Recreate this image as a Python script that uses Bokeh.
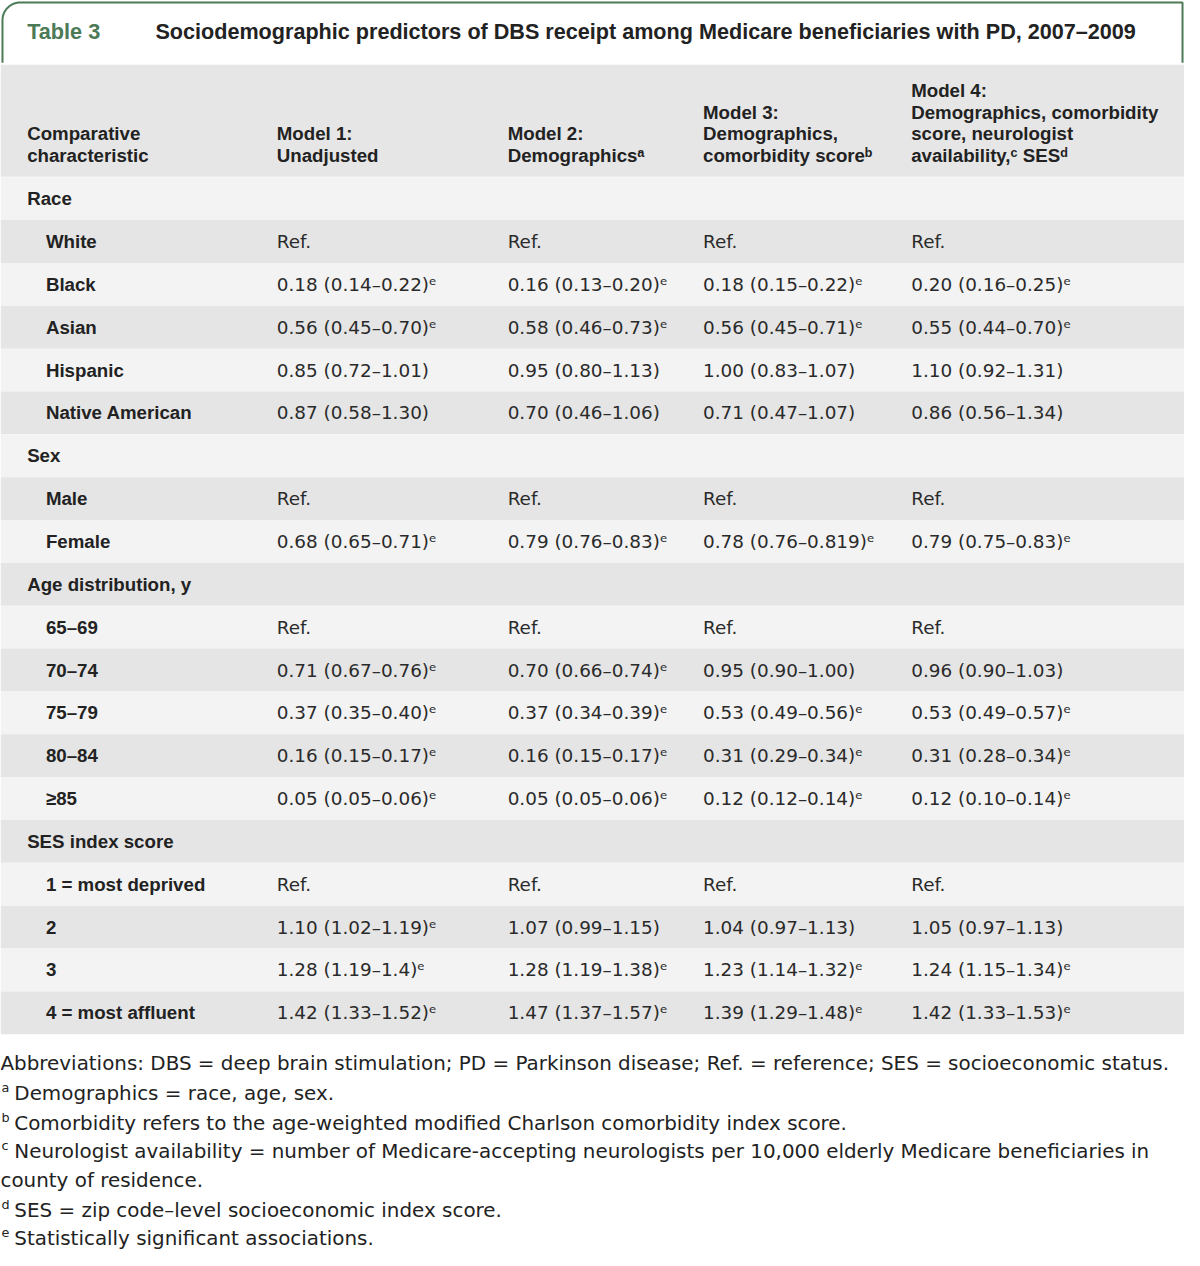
from bokeh.plotting import figure
from bokeh.models import Range1d, ColumnDataSource
from bokeh.embed import file_html
from bokeh.resources import INLINE
from bokeh.core.properties import value
import numpy as np

# ---------------- data ----------------
table_label = "Table 3"
title = "Sociodemographic predictors of DBS receipt among Medicare beneficiaries with PD, 2007\u20132009"

header_cols = [
    ["Comparative", "characteristic"],
    ["Model 1:", "Unadjusted"],
    ["Model 2:", "Demographics\u1d43"],
    ["Model 3:", "Demographics,", "comorbidity score\u1d47"],
    ["Model 4:", "Demographics, comorbidity", "score, neurologist", "availability,\u1d9c SES\u1d48"],
]

row_labels = ["Race", "White", "Black", "Asian", "Hispanic", "Native American",
              "Sex", "Male", "Female",
              "Age distribution, y", "65\u201369", "70\u201374", "75\u201379", "80\u201384", "\u226585",
              "SES index score", "1 = most deprived", "2", "3", "4 = most affluent"]
row_is_group = [True, False, False, False, False, False,
                True, False, False,
                True, False, False, False, False, False,
                True, False, False, False, False]

E = "\u1d49"
model1 = ["", "Ref.", "0.18 (0.14\u20130.22)" + E, "0.56 (0.45\u20130.70)" + E, "0.85 (0.72\u20131.01)", "0.87 (0.58\u20131.30)",
          "", "Ref.", "0.68 (0.65\u20130.71)" + E,
          "", "Ref.", "0.71 (0.67\u20130.76)" + E, "0.37 (0.35\u20130.40)" + E, "0.16 (0.15\u20130.17)" + E, "0.05 (0.05\u20130.06)" + E,
          "", "Ref.", "1.10 (1.02\u20131.19)" + E, "1.28 (1.19\u20131.4)" + E, "1.42 (1.33\u20131.52)" + E]
model2 = ["", "Ref.", "0.16 (0.13\u20130.20)" + E, "0.58 (0.46\u20130.73)" + E, "0.95 (0.80\u20131.13)", "0.70 (0.46\u20131.06)",
          "", "Ref.", "0.79 (0.76\u20130.83)" + E,
          "", "Ref.", "0.70 (0.66\u20130.74)" + E, "0.37 (0.34\u20130.39)" + E, "0.16 (0.15\u20130.17)" + E, "0.05 (0.05\u20130.06)" + E,
          "", "Ref.", "1.07 (0.99\u20131.15)", "1.28 (1.19\u20131.38)" + E, "1.47 (1.37\u20131.57)" + E]
model3 = ["", "Ref.", "0.18 (0.15\u20130.22)" + E, "0.56 (0.45\u20130.71)" + E, "1.00 (0.83\u20131.07)", "0.71 (0.47\u20131.07)",
          "", "Ref.", "0.78 (0.76\u20130.819)" + E,
          "", "Ref.", "0.95 (0.90\u20131.00)", "0.53 (0.49\u20130.56)" + E, "0.31 (0.29\u20130.34)" + E, "0.12 (0.12\u20130.14)" + E,
          "", "Ref.", "1.04 (0.97\u20131.13)", "1.23 (1.14\u20131.32)" + E, "1.39 (1.29\u20131.48)" + E]
model4 = ["", "Ref.", "0.20 (0.16\u20130.25)" + E, "0.55 (0.44\u20130.70)" + E, "1.10 (0.92\u20131.31)", "0.86 (0.56\u20131.34)",
          "", "Ref.", "0.79 (0.75\u20130.83)" + E,
          "", "Ref.", "0.96 (0.90\u20131.03)", "0.53 (0.49\u20130.57)" + E, "0.31 (0.28\u20130.34)" + E, "0.12 (0.10\u20130.14)" + E,
          "", "Ref.", "1.05 (0.97\u20131.13)", "1.24 (1.15\u20131.34)" + E, "1.42 (1.33\u20131.53)" + E]

footnote_marks = ["", "a", "b", "c", "", "d", "e"]
footnotes = [
    "Abbreviations: DBS = deep brain stimulation; PD = Parkinson disease; Ref. = reference; SES = socioeconomic status.",
    "Demographics = race, age, sex.",
    "Comorbidity refers to the age-weighted modified Charlson comorbidity index score.",
    "Neurologist availability = number of Medicare-accepting neurologists per 10,000 elderly Medicare beneficiaries in",
    "county of residence.",
    "SES = zip code\u2013level socioeconomic index score.",
    "Statistically significant associations.",
]

# ---------------- layout ----------------
W, H = 1184, 1250
S = W / 1200.0
def px(v):
    return "%.1fpx" % (v * S)

FONT = value("Liberation Sans")
FONT_R = value("DejaVu Sans")
GREEN = "#4c7a56"
TXT = "#222222"

p = figure(width=W, height=H, x_range=Range1d(0, 1200), y_range=Range1d(1266, 0),
           output_backend="svg", toolbar_location=None, min_border=0)
p.axis.visible = False
p.grid.visible = False
p.outline_line_color = None
p.background_fill_color = "white"
p.border_fill_color = "white"

# title box with rounded top-left corner
r = 18
ang = np.linspace(np.pi, 1.5 * np.pi, 20)
bx = [1198, 1198, 2 + r] + list((2 + r + r * np.cos(ang))[::-1]) + [2, 2]
by = [63, 2, 2] + list((2 + r + r * np.sin(ang))[::-1]) + [2 + r, 63]
p.line(bx, by, line_color=GREEN, line_width=2)

p.text(x=[27], y=[31], text=[table_label], text_font=FONT, text_font_style="bold",
       text_font_size=px(22), text_color=GREEN, text_baseline="middle")
p.text(x=[157], y=[31], text=[title], text_font=FONT, text_font_style="bold",
       text_font_size=px(21.9), text_color=TXT, text_baseline="middle")

# header block
HEAD_TOP, HEAD_BOT = 65, 178.5
p.quad(left=[0], right=[1200], top=[HEAD_TOP], bottom=[HEAD_BOT], fill_color="#e6e6e6", line_color=None)

col_x = [27, 280, 514, 712, 923]
hx, hy, ht = [], [], []
for ci, lines in enumerate(header_cols):
    n = len(lines)
    for li, t in enumerate(lines):
        hx.append(col_x[ci])
        hy.append(157 - 22 * (n - 1 - li))
        ht.append(t)
p.text(x=hx, y=hy, text=ht, text_font=FONT, text_font_style="bold",
       text_font_size=px(19), text_color=TXT, text_baseline="middle")

# body rows
ROW0, RH = 179, 43.4
n = len(row_labels)
tops = [ROW0 + RH * i for i in range(n)]
bots = [ROW0 + RH * (i + 1) for i in range(n)]
cols = ["#f3f3f3" if i % 2 == 0 else "#e5e5e5" for i in range(n)]
p.quad(left=[0] * n, right=[1200] * n, top=tops, bottom=bots, fill_color=cols, line_color=None)

yc = [ROW0 + RH * (i + 0.5) for i in range(n)]
lab_x = [27 if g else 46 for g in row_is_group]
p.text(x=lab_x, y=yc, text=row_labels, text_font=FONT, text_font_style="bold",
       text_font_size=px(19), text_color=TXT, text_baseline="middle")

for ci, vals in enumerate([model1, model2, model3, model4]):
    src = ColumnDataSource(dict(x=[col_x[ci + 1]] * n, y=yc, t=vals))
    p.text(x="x", y="y", text="t", source=src, text_font=FONT_R,
           text_font_size=px(18.6), text_color="#2a2a2a", text_baseline="middle")

# footnotes
fy = [1077, 1107, 1137, 1166, 1195, 1225, 1254]
fx = [0 if m == "" else 14 for m in footnote_marks]
p.text(x=fx, y=fy, text=footnotes, text_font=FONT_R,
       text_font_size=px(20.2), text_color=TXT, text_baseline="middle")
mk = [(m, y) for m, y in zip(footnote_marks, fy) if m]
p.text(x=[1] * len(mk), y=[y - 6 for _, y in mk], text=[m for m, _ in mk], text_font=FONT_R,
       text_font_size=px(13), text_color=TXT, text_baseline="middle")

open("out.html", "w").write(file_html(p, INLINE))
